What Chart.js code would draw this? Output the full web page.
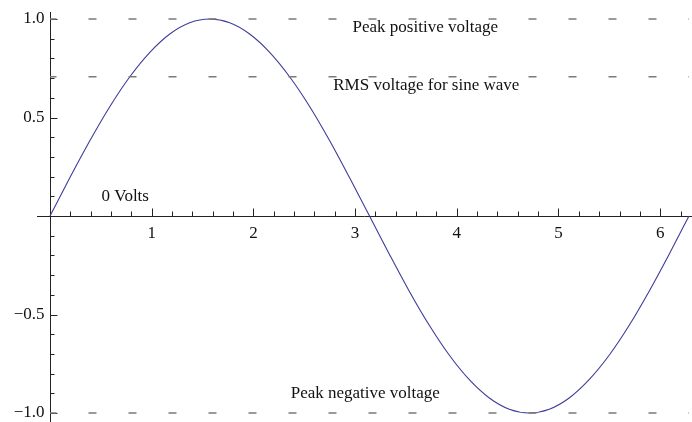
<!DOCTYPE html>
<html lang="en">
<head>
    <meta charset="UTF-8">
    <title>Sine wave voltage</title>
    <script src="https://cdn.jsdelivr.net/npm/chart.js"></script>
    <style>
        body { margin: 0; background: #fff; }
        #wrap { width: 692px; height: 422px; }
    </style>
</head>
<body>
    <div id="wrap"><canvas id="sineChart" width="692" height="422"></canvas></div>

    <script>
        // Angle (radians) and voltage
        const angles = [0, 0.196, 0.393, 0.589, 0.785, 0.982, 1.178, 1.374, 1.571, 1.767, 1.963,
            2.160, 2.356, 2.553, 2.749, 2.945, 3.142, 3.338, 3.534, 3.731, 3.927, 4.123,
            4.320, 4.516, 4.712, 4.909, 5.105, 5.301, 5.498, 5.694, 5.890, 6.087, 6.283];
        const volts = [0, 0.195, 0.383, 0.556, 0.707, 0.831, 0.924, 0.981, 1, 0.981, 0.924,
            0.831, 0.707, 0.556, 0.383, 0.195, 0, -0.195, -0.383, -0.556, -0.707, -0.831,
            -0.924, -0.981, -1, -0.981, -0.924, -0.831, -0.707, -0.556, -0.383, -0.195, 0];

        // Dashed reference levels
        const refLevels = [1, 0.707, -1];

        // Axis ticks
        const xTicks = [1, 2, 3, 4, 5, 6];
        const xTickLabels = ['1', '2', '3', '4', '5', '6'];
        const yTicks = [1, 0.5, -0.5, -1];
        const yTickLabels = ['1.0', '0.5', '\u22120.5', '\u22121.0'];

        // Text notes placed in data units
        const noteTexts = ['Peak positive voltage', 'RMS voltage for sine wave', '0 Volts', 'Peak negative voltage'];
        const noteX = [3.69, 3.70, 0.74, 3.10];
        const noteY = [0.955, 0.66, 0.10, -0.90];

        const xMax = 6.2832;
        const font = '17px "Liberation Serif", "DejaVu Serif", serif';

        const datasets = refLevels.map(level => ({
            data: [{ x: 0, y: level }, { x: xMax, y: level }],
            borderColor: '#7a7a7a',
            borderWidth: 1.6,
            borderDash: [8, 32],
            borderDashOffset: 1.5,
            pointRadius: 0,
            showLine: true,
            clip: false
        }));
        datasets.push({
            data: angles.map((a, i) => ({ x: a, y: volts[i] })),
            borderColor: 'rgb(61, 61, 153)',
            borderWidth: 1.1,
            pointRadius: 0,
            showLine: true,
            cubicInterpolationMode: 'monotone',
            clip: false
        });

        // Mathematica-style axes crossing at the origin, with minor ticks
        const axesPlugin = {
            id: 'axes',
            beforeDatasetsDraw(chart) {
                const ctx = chart.ctx;
                const xs = chart.scales.x, ys = chart.scales.y;
                const x0 = Math.round(xs.getPixelForValue(0)) + 0.5;
                const y0 = Math.round(ys.getPixelForValue(0)) + 0.5;
                ctx.save();
                ctx.strokeStyle = '#222';
                ctx.lineWidth = 1;
                ctx.beginPath();
                ctx.moveTo(37, y0); ctx.lineTo(692, y0);
                ctx.moveTo(x0, 12); ctx.lineTo(x0, 422);
                // x ticks every 0.2, major at integers
                for (let k = 1; k <= 31; k++) {
                    const px = Math.round(xs.getPixelForValue(k * 0.2)) + 0.5;
                    const len = k % 5 === 0 ? 8 : 5;
                    ctx.moveTo(px, y0); ctx.lineTo(px, y0 - len);
                }
                // y ticks every 0.1, major at 0.5
                for (let k = -10; k <= 10; k++) {
                    if (k === 0) continue;
                    const py = Math.round(ys.getPixelForValue(k * 0.1)) + 0.5;
                    const len = k % 5 === 0 ? 7 : 4;
                    ctx.moveTo(x0, py); ctx.lineTo(x0 + len, py);
                }
                ctx.stroke();

                ctx.fillStyle = '#111';
                ctx.font = font;
                ctx.textAlign = 'center';
                ctx.textBaseline = 'middle';
                xTicks.forEach((v, i) => {
                    ctx.fillText(xTickLabels[i], xs.getPixelForValue(v), y0 + 17);
                });
                ctx.textAlign = 'right';
                yTicks.forEach((v, i) => {
                    ctx.fillText(yTickLabels[i], x0 - 6, ys.getPixelForValue(v));
                });
                ctx.restore();
            },
            afterDatasetsDraw(chart) {
                const ctx = chart.ctx;
                ctx.save();
                ctx.fillStyle = '#111';
                ctx.font = font;
                ctx.textAlign = 'center';
                ctx.textBaseline = 'middle';
                noteTexts.forEach((t, i) => {
                    ctx.fillText(t, chart.scales.x.getPixelForValue(noteX[i]), chart.scales.y.getPixelForValue(noteY[i]));
                });
                ctx.restore();
            }
        };

        new Chart(document.getElementById('sineChart').getContext('2d'), {
            type: 'scatter',
            data: { datasets: datasets },
            options: {
                responsive: false,
                animation: false,
                layout: { padding: { left: 50, right: 3, top: 19, bottom: 9 } },
                plugins: { legend: { display: false }, tooltip: { enabled: false } },
                scales: {
                    x: { type: 'linear', min: 0, max: xMax, display: false },
                    y: { type: 'linear', min: -1, max: 1, display: false }
                }
            },
            plugins: [axesPlugin]
        });
    </script>
</body>
</html>
